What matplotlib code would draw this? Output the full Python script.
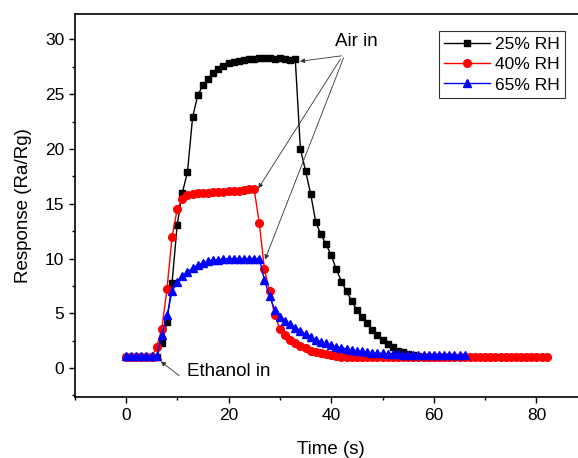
import matplotlib
matplotlib.use("Agg")
import matplotlib.pyplot as plt
from matplotlib.ticker import MultipleLocator

plt.rcParams['font.family'] = ['Liberation Sans', 'DejaVu Sans']

# time axis (s) for each humidity run
t_25 = list(range(0, 63))
t_40 = list(range(0, 83))
t_65 = list(range(0, 67))

# response Ra/Rg
resp_25 = [1.0, 1.0, 1.0, 1.0, 1.0, 1.0, 1.0,
           2.3, 4.2, 7.8, 13.1, 16.0, 17.9, 22.9, 24.9, 25.8, 26.4, 26.9, 27.3, 27.6,
           27.8, 27.9, 28.0, 28.1, 28.2, 28.2, 28.3, 28.3, 28.3, 28.2, 28.3, 28.2, 28.1, 28.2,
           20.0, 18.0, 15.9, 13.3, 12.2, 11.3, 10.3, 9.0, 7.9, 7.0, 6.1, 5.3, 4.7, 4.1,
           3.5, 3.0, 2.6, 2.2, 1.9, 1.6, 1.45, 1.3, 1.2, 1.1, 1.05, 1.0, 1.0, 1.0, 1.0]
resp_40 = [1.0, 1.0, 1.0, 1.0, 1.0, 1.0,
           1.9, 3.6, 7.2, 12.0, 14.5, 15.4, 15.8, 15.9, 15.95, 16.0, 16.0, 16.05, 16.1, 16.1,
           16.15, 16.2, 16.2, 16.25, 16.3, 16.3,
           13.2, 9.0, 7.0, 4.8, 3.6, 3.0, 2.6, 2.3, 2.0, 1.8, 1.6, 1.45, 1.35, 1.25, 1.15,
           1.1, 1.05] + [1.0] * 40
resp_65 = [1.1, 1.1, 1.1, 1.1, 1.1, 1.1, 1.1,
           3.0, 4.8, 7.0, 7.9, 8.4, 8.8, 9.1, 9.4, 9.6, 9.75, 9.85, 9.9, 9.95,
           10.0, 10.0, 10.0, 10.0, 10.0, 10.0, 10.0,
           8.0, 6.6, 5.3, 4.7, 4.3, 4.0, 3.7, 3.4, 3.1, 2.85, 2.6, 2.4, 2.25, 2.1, 1.95,
           1.85, 1.75, 1.65, 1.58, 1.52, 1.46, 1.41, 1.37, 1.33, 1.3, 1.27, 1.24, 1.22,
           1.2, 1.18] + [1.15] * 10

labels = ['25% RH', '40% RH', '65% RH']

fig = plt.figure(figsize=(5.78, 4.58), dpi=100)
ax = fig.add_axes([0.129, 0.133, 0.888, 0.836])

ax.plot(t_25, resp_25, color='black', marker='s', ms=5, lw=1, label=labels[0])
ax.plot(t_40, resp_40, color='red', marker='o', ms=5.5, lw=1, label=labels[1])
ax.plot(t_65, resp_65, color='blue', marker='^', ms=5.5, lw=1, label=labels[2])

ax.set_xlim(-10, 90)
ax.set_ylim(-2.65, 32.3)
ax.xaxis.set_major_locator(MultipleLocator(20))
ax.xaxis.set_minor_locator(MultipleLocator(10))
ax.yaxis.set_major_locator(MultipleLocator(5))
ax.yaxis.set_minor_locator(MultipleLocator(2.5))
ax.tick_params(which='major', direction='out', length=4, width=1, labelsize=12.5)
ax.tick_params(which='minor', direction='out', length=2.5, width=1)
ax.spines['right'].set_visible(False)
for s in ax.spines.values():
    s.set_linewidth(1.2)

ax.set_xlabel('Time (s)', fontsize=13.5, labelpad=13)
ax.set_ylabel('Response (Ra/Rg)', fontsize=13.5, labelpad=9)

# annotations
arrow = dict(arrowstyle='-|>', color='#333333', lw=0.6, mutation_scale=7, shrinkA=0, shrinkB=0)
ax.text(45.0, 29.8, 'Air in', fontsize=13.5, ha='center', va='center')
ax.annotate('', xy=(33.9, 28.0), xytext=(42.0, 28.5), arrowprops=arrow)
ax.annotate('', xy=(25.8, 16.4), xytext=(41.8, 28.2), arrowprops=arrow)
ax.annotate('', xy=(27.1, 9.9), xytext=(42.4, 28.3), arrowprops=arrow)
ax.text(11.9, -0.35, 'Ethanol in', fontsize=13.5, ha='left', va='center')
ax.annotate('', xy=(6.8, 0.6), xytext=(10.4, -0.7), arrowprops=arrow)

leg = ax.legend(loc='upper right', bbox_to_anchor=(0.955, 0.955), borderaxespad=0,
                fontsize=12.5, fancybox=False, frameon=True, handlelength=2.6,
                handletextpad=0.3, labelspacing=0.3, borderpad=0.3)
leg.get_frame().set_edgecolor('black')
leg.get_frame().set_linewidth(0.8)

fig.savefig('out.png', dpi=100)
